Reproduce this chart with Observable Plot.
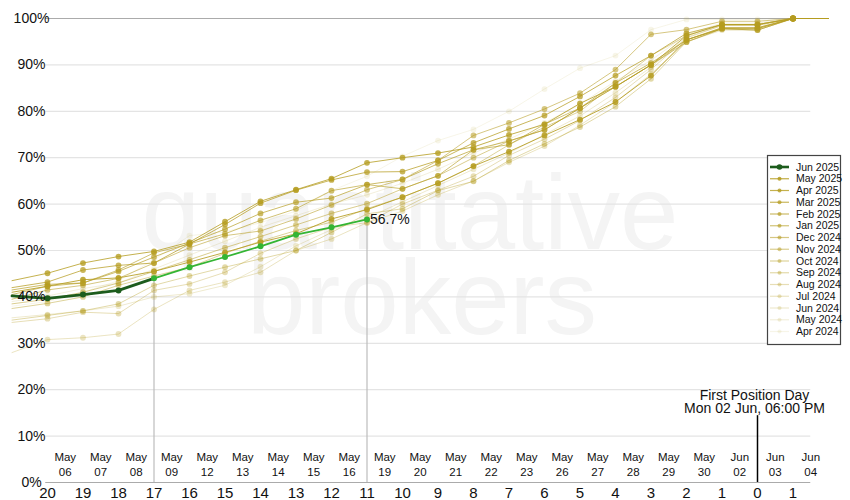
<!DOCTYPE html>
<html><head><meta charset="utf-8">
<script src="https://cdn.jsdelivr.net/npm/d3@7"></script>
<script src="https://cdn.jsdelivr.net/npm/@observablehq/plot@0.6"></script>
<style>body{margin:0;background:#fff;font-family:"Liberation Sans",Arial,sans-serif}</style>
</head><body><div id="chart"></div>
<script>
// days to First Position Day
const days = [21,20,19,18,17,16,15,14,13,12,11,10,9,8,7,6,5,4,3,2,1,0,-1,-2];
// date labels for days 20 .. -1 (drawn half a day later)
const dateDays = [20,19,18,17,16,15,14,13,12,11,10,9,8,7,6,5,4,3,2,1,0,-1];
const dateLabels = ["May\n06","May\n07","May\n08","May\n09","May\n12","May\n13","May\n14","May\n15","May\n16","May\n19","May\n20","May\n21","May\n22","May\n23","May\n26","May\n27","May\n28","May\n29","May\n30","Jun\n02","Jun\n03","Jun\n04"];
const yTicks = [0,10,20,30,40,50,60,70,80,90,100];

const currentName = "Jun 2025";
const currentDays = [21,20,19,18,17,16,15,14,13,12,11];
const currentValues = [40.2,39.7,40.5,41.4,44.0,46.4,48.6,50.9,53.4,55.0,56.7];

const pastNames = ["May 2025","Apr 2025","Mar 2025","Feb 2025","Jan 2025","Dec 2024","Nov 2024","Oct 2024","Sep 2024","Aug 2024","Jul 2024","Jun 2024","May 2024","Apr 2024"];
const pastValues = [
  [41.0,42.3,43.7,44.1,45.5,47.5,49.6,51.8,53.6,56.8,58.8,61.5,64.5,68.2,71.3,74.8,78.2,82.0,87.7,95.4,97.8,97.8,100,100],
  [43.5,45.1,47.3,48.7,49.8,51.8,56.2,60.6,63.1,65.5,68.9,70.0,71.0,72.3,74.9,77.2,81.7,85.3,90.0,96.3,98.7,98.7,100,100],
  [42.0,43.2,45.8,46.8,47.3,51.4,55.6,60.2,63.0,65.2,66.9,67.0,69.4,73.2,76.2,79.1,83.2,87.7,92.0,96.8,98.7,98.7,100,100],
  [41.5,42.7,43.0,45.5,48.6,51.6,54.6,58.0,60.4,61.3,64.2,65.3,68.7,71.7,73.6,76.0,80.7,86.1,90.4,95.4,98.0,98.0,100,100],
  [40.5,42.3,43.0,45.8,49.5,51.4,53.6,56.5,59.0,62.9,64.2,63.3,66.1,71.7,72.8,77.2,80.7,85.3,90.0,94.9,97.8,97.5,100,100],
  [39.5,41.5,42.5,44.0,47.3,50.6,53.2,54.2,56.8,59.8,63.1,65.3,69.4,74.8,77.5,80.5,83.9,89.0,96.6,97.6,99.4,99.4,100,100],
  [38.5,39.5,41.0,43.0,45.5,48.0,50.6,53.0,55.5,58.0,60.1,63.3,66.1,70.0,73.6,76.0,80.7,85.3,90.0,95.4,98.0,98.0,100,100],
  [37.5,38.6,40.0,42.5,44.5,46.4,49.4,52.0,54.3,56.1,59.0,61.5,64.5,68.2,72.8,76.6,80.0,86.1,92.0,96.3,98.7,98.7,100,100],
  [35.0,36.0,37.0,38.5,42.5,44.5,46.4,48.2,50.0,53.9,57.9,59.0,62.9,64.9,69.4,73.0,76.6,81.0,87.0,95.0,97.8,97.5,100,100],
  [34.5,35.3,36.7,36.4,41.4,42.8,45.3,49.4,52.5,55.0,56.0,60.0,63.0,66.0,70.5,74.0,78.0,83.0,89.0,95.8,98.5,98.5,100,100],
  [28.0,30.8,31.2,32.0,37.3,41.4,43.2,45.3,50.0,52.5,56.0,58.5,62.0,65.0,69.0,72.5,77.0,82.0,88.0,95.0,97.5,97.5,100,100],
  [35.5,36.2,37.0,38.0,40.0,40.7,42.5,46.5,51.0,54.5,57.0,60.5,64.0,67.5,71.0,75.0,79.0,84.0,89.5,96.0,98.5,98.5,100,100],
  [39.0,40.2,41.8,43.0,46.0,49.0,52.0,55.0,57.5,60.0,62.0,64.5,67.5,71.0,74.0,77.5,81.5,86.5,91.0,96.5,99.0,99.0,100,100],
  [38.0,39.0,41.0,43.5,48.0,53.2,54.0,56.0,58.5,62.9,66.0,70.3,73.7,76.1,80.0,84.8,89.3,92.0,97.6,99.8,99.8,99.8,100,100]
];
const fpdDay = 0;
const fpdLabel = "First Position Day\nMon 02 Jun, 06:00 PM";

const gold = "rgb(181,156,32)";
const darkGreen = "#1d5c1d";
const brightGreen = "#34b534";
const opac = pastNames.map((_, i) => 0.85 - i * (0.75 / (pastNames.length - 1)));

const pastRows = pastNames.map((name, i) => days.map((d, j) => ({series: name, day: d, value: pastValues[i][j]})));
const curRows = currentDays.map((d, j) => ({day: d, value: currentValues[j]}));
const curAt = d => curRows.find(r => r.day === d).value;

const marks = [];
marks.push(Plot.ruleY(yTicks.filter(t => t > 0 && t < 100), {y: d => d, x1: 20.05, x2: -1.5, stroke: "#e4e4e4", strokeWidth: 1.2}));
marks.push(Plot.ruleY([0, 100], {y: d => d, x1: 20.05, x2: -1.5, stroke: "#ababab", strokeWidth: 1.2}));
// vertical markers
marks.push(Plot.ruleX([17, 11], {x: d => d, y1: 0, y2: d => curAt(d), stroke: "#bdbdbd", strokeWidth: 1.2}));
// past series, oldest first
for (let i = pastNames.length - 1; i >= 0; i--) {
  marks.push(Plot.line(pastRows[i], {x: "day", y: "value", stroke: gold, strokeOpacity: opac[i], strokeWidth: 1}));
  marks.push(Plot.dot(pastRows[i].filter(r => r.day >= -1 && r.day <= 20), {x: "day", y: "value", r: 2.9, fill: gold, fillOpacity: opac[i], stroke: "none"}));
}
// current series
marks.push(Plot.line(curRows.filter(r => r.day >= 17), {x: "day", y: "value", stroke: darkGreen, strokeWidth: 2.8}));
marks.push(Plot.line(curRows.filter(r => r.day <= 17), {x: "day", y: "value", stroke: brightGreen, strokeWidth: 1.8}));
marks.push(Plot.dot(curRows.filter(r => r.day > 17 && r.day <= 20), {x: "day", y: "value", r: 3, fill: darkGreen}));
marks.push(Plot.dot(curRows.filter(r => r.day <= 17), {x: "day", y: "value", r: 3, fill: brightGreen}));
marks.push(Plot.text([curRows[curRows.length - 1]], {x: "day", y: "value", text: d => d.value.toFixed(1) + "%", textAnchor: "start", dx: 3, fontSize: 14, fill: "#111"}));
// first position day
marks.push(Plot.ruleX([fpdDay], {x: d => d, y1: 0, y2: 14.4, stroke: "#000", strokeWidth: 1.5}));
marks.push(Plot.text([fpdLabel], {x: fpdDay, y: 17.3, text: d => d, textAnchor: "middle", dx: -3, fontSize: 14, lineHeight: 0.97, fill: "#111"}));
// y labels
marks.push(Plot.text(yTicks, {x: 21, y: d => d, text: d => d + "%", dx: 19.5, textAnchor: "middle", fontSize: 14, fill: "#111"}));
// date labels
marks.push(Plot.text(dateDays, {x: d => d - 0.5, y: 4.05, text: (d, i) => dateLabels[i], textAnchor: "middle", fontSize: 11.5, lineHeight: 1.3, fill: "#111"}));
// day-count labels
marks.push(Plot.text(days.filter(d => d <= 20 && d >= -1), {x: d => d, y: -2.2, text: d => String(Math.abs(d)), textAnchor: "middle", fontSize: 15, fill: "#111"}));

const chart = Plot.plot({
  width: 850, height: 500,
  marginLeft: 11.5, marginRight: 22, marginTop: 18, marginBottom: 18,
  x: {domain: [21, -2], axis: null},
  y: {domain: [0, 100], axis: null},
  style: {fontFamily: "'Liberation Sans', Arial, sans-serif", background: "#fff", overflow: "visible"},
  marks
});
document.getElementById("chart").appendChild(chart);

const svg = d3.select(chart);
// watermark behind everything
const wm = svg.insert("g", ":first-child").attr("fill", "#f4f4f4").attr("font-size", 105).attr("text-anchor", "middle").attr("font-family", "'Liberation Sans', Arial, sans-serif");
wm.append("text").attr("x", 410).attr("y", 249).text("quantitative");
wm.append("text").attr("x", 422).attr("y", 334).text("brokers");

// legend
const lg = svg.append("g").attr("font-family", "'Liberation Sans', Arial, sans-serif").attr("font-size", 10.5).attr("text-anchor", "start");
lg.append("rect").attr("x", 767.5).attr("y", 155.5).attr("width", 73).attr("height", 189).attr("fill", "#fff").attr("stroke", "#444").attr("stroke-width", 1.2);
const names = [currentName, ...pastNames];
names.forEach((n, i) => {
  const y = 167 + i * 11.75;
  const isCur = i === 0;
  const col = isCur ? darkGreen : gold;
  const op = isCur ? 1 : opac[i - 1];
  lg.append("line").attr("x1", 770).attr("x2", 789).attr("y1", y).attr("y2", y).attr("stroke", col).attr("stroke-opacity", op).attr("stroke-width", isCur ? 2.6 : 1.2);
  lg.append("circle").attr("cx", 779.5).attr("cy", y).attr("r", isCur ? 2.8 : 2).attr("fill", col).attr("fill-opacity", op);
  lg.append("text").attr("x", 796).attr("y", y).attr("dy", "0.35em").attr("fill", "#111").text(n);
});
</script></body></html>
